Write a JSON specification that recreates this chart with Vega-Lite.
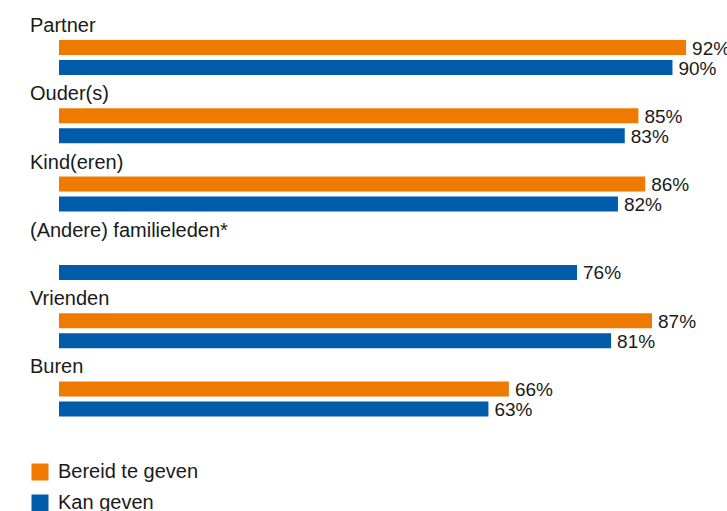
{
  "$schema": "https://vega.github.io/schema/vega-lite/v6.json",
  "width": 668,
  "height": 401.5,
  "autosize": {"type": "none"},
  "padding": {"left": 59, "top": 17.5, "right": 0, "bottom": 92},
  "config": {"view": {"stroke": null}, "font": "Liberation Sans"},
  "data": {
    "values": [
      {"cat": "Partner", "series": "Bereid te geven", "value": 0.92},
      {"cat": "Partner", "series": "Kan geven", "value": 0.90},
      {"cat": "Ouder(s)", "series": "Bereid te geven", "value": 0.85},
      {"cat": "Ouder(s)", "series": "Kan geven", "value": 0.83},
      {"cat": "Kind(eren)", "series": "Bereid te geven", "value": 0.86},
      {"cat": "Kind(eren)", "series": "Kan geven", "value": 0.82},
      {"cat": "(Andere) familieleden*", "series": "Kan geven", "value": 0.76},
      {"cat": "Vrienden", "series": "Bereid te geven", "value": 0.87},
      {"cat": "Vrienden", "series": "Kan geven", "value": 0.81},
      {"cat": "Buren", "series": "Bereid te geven", "value": 0.66},
      {"cat": "Buren", "series": "Kan geven", "value": 0.63}
    ]
  },
  "encoding": {
    "y": {
      "field": "cat",
      "type": "nominal",
      "sort": ["Partner", "Ouder(s)", "Kind(eren)", "(Andere) familieleden*", "Vrienden", "Buren"],
      "axis": null,
      "scale": {"paddingInner": 0.1215, "paddingOuter": 0}
    }
  },
  "layer": [
    {
      "mark": {"type": "bar", "height": 15},
      "encoding": {
        "x": {"field": "value", "type": "quantitative", "scale": {"domain": [0, 0.98], "nice": false, "zero": true}, "axis": null},
        "yOffset": {
          "field": "series",
          "type": "nominal",
          "scale": {"domain": ["label", "Bereid te geven", "Kan geven"], "paddingInner": 0, "paddingOuter": 0}
        },
        "color": {
          "field": "series",
          "type": "nominal",
          "scale": {"domain": ["Bereid te geven", "Kan geven"], "range": ["#EE7A00", "#005BAA"]},
          "legend": {
            "orient": "none",
            "legendX": -29,
            "legendY": 444.5,
            "title": null,
            "direction": "vertical",
            "padding": 0,
            "symbolType": "square",
            "symbolSize": 289,
            "symbolStrokeWidth": 0,
            "symbolOpacity": 1,
            "labelFontSize": 20,
            "labelColor": "#1a1a1a",
            "labelOffset": 8,
            "rowPadding": 11
          }
        }
      }
    },
    {
      "mark": {"type": "text", "align": "left", "baseline": "middle", "dx": 6, "dy": 1, "fontSize": 19, "color": "#1a1a1a"},
      "encoding": {
        "x": {"field": "value", "type": "quantitative"},
        "yOffset": {"field": "series", "type": "nominal"},
        "text": {"field": "value", "format": ".0%"}
      }
    },
    {
      "data": {
        "values": [
          {"cat": "Partner"},
          {"cat": "Ouder(s)"},
          {"cat": "Kind(eren)"},
          {"cat": "(Andere) familieleden*"},
          {"cat": "Vrienden"},
          {"cat": "Buren"}
        ]
      },
      "mark": {"type": "text", "align": "left", "baseline": "alphabetic", "dx": -29, "dy": 4.5, "fontSize": 20, "color": "#1a1a1a"},
      "encoding": {
        "x": {"datum": 0},
        "yOffset": {"datum": "label"},
        "text": {"field": "cat"}
      }
    }
  ]
}
